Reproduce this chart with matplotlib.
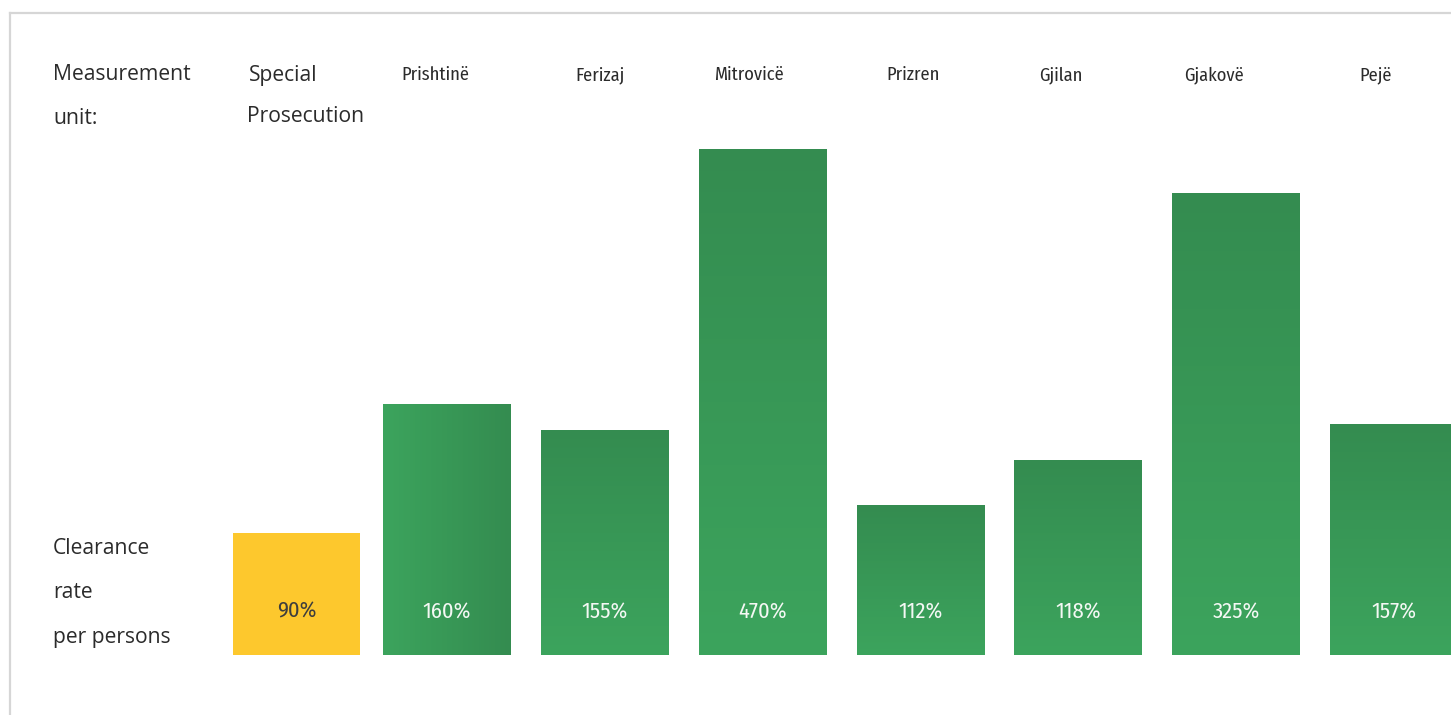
import numpy as np
import matplotlib
matplotlib.use("Agg")
import matplotlib.pyplot as plt
from matplotlib.colors import LinearSegmentedColormap
from matplotlib import font_manager
from matplotlib.lines import Line2D

# ---- data ----
categories = ["Special\nProsecution", "Prishtinë", "Ferizaj", "Mitrovicë",
              "Prizren", "Gjilan", "Gjakovë", "Pejë"]
rate_labels = ["90%", "160%", "155%", "470%", "112%", "118%", "325%", "157%"]
# visual bar heights (chart not drawn to scale)
bar_heights = [122, 251, 225, 506, 150, 195, 462, 231]
# x-positions (figure px) of the header labels of the municipalities
header_px = [None, 435, 600, 749, 913, 1061, 1214, 1376]

W, H = 1451, 715
fig = plt.figure(figsize=(W / 100, H / 100), dpi=100)
fig.patch.set_facecolor("white")

names = {f.name for f in font_manager.fontManager.ttflist}
def pick(cands):
    for c in cands:
        if c in names:
            return c
    return "DejaVu Sans"
cond = pick(["Fira Sans Condensed", "Roboto Condensed", "Open Sans Condensed",
             "PT Sans Narrow", "Archivo Narrow", "Encode Sans Condensed",
             "Liberation Sans Narrow"])
reg = pick(["Open Sans", "PT Sans"])

# axes spanning the full width, baseline at y=655 px
base_px = 655
ax = fig.add_axes([0, 1 - base_px / H, 1, base_px / H])
step = 157.8
c1 = 447.0          # centre of second bar in px
ax.set_xlim(1 - c1 / step, 1 + (W - c1) / step)
ax.set_ylim(0, base_px)
ax.axis("off")

x = np.arange(len(categories), dtype=float)
x[0] = 1 - 150.5 / step
width = 127.5 / step
colors = ["#fdc82d"] + ["#399b58"] * 7
bars = ax.bar(x, bar_heights, width=width, color=colors, linewidth=0, zorder=1)

dark = "#348c50"
light = "#3ca45d"
cmap_v = LinearSegmentedColormap.from_list("v", [light, dark])
for i, b in enumerate(bars):
    if i == 0:
        continue
    x0 = b.get_x()
    x1 = x0 + b.get_width()
    h = b.get_height()
    if i == 1:
        grad = np.linspace(0, 1, 256).reshape(1, -1)
    else:
        grad = np.linspace(0, 1, 256).reshape(-1, 1)
    im = ax.imshow(grad, extent=[x0, x1, 0, h], origin="lower", aspect="auto",
                   cmap=cmap_v, zorder=2, interpolation="bilinear")
    im.set_clip_path(b)

ax.set_xlim(1 - c1 / step, 1 + (W - c1) / step)
ax.set_ylim(0, base_px)

# value labels inside bars
for i, b in enumerate(bars):
    col = "#3d3d3d" if i == 0 else "#f4f8f4"
    ax.text(b.get_x() + b.get_width() / 2, base_px - 611, rate_labels[i],
            ha="center", va="center", fontsize=16.2, family=cond, color=col, zorder=3)

tc = "#2b2b2b"
def fx(px):
    return px / W
def fy(py):
    return 1 - py / H

fs = 15.2
# header row
fig.text(fx(53), fy(75), "Measurement", ha="left", va="center", fontsize=fs,
         family=reg, color=tc)
fig.text(fx(53), fy(118), "unit:", ha="left", va="center", fontsize=fs,
         family=reg, color=tc)
sp, pr = categories[0].split("\n")
fig.text(fx(249), fy(75), sp, ha="left", va="center", fontsize=fs, family=reg, color=tc)
fig.text(fx(247), fy(117), pr, ha="left", va="center", fontsize=fs, family=reg, color=tc)
for i in range(1, len(categories)):
    fig.text(fx(header_px[i]), fy(75), categories[i], ha="center", va="center",
             fontsize=13.3, family=cond, color=tc)

# left measure labels
for txt, py in [("Clearance", 548), ("rate", 592), ("per persons", 637)]:
    fig.text(fx(53), fy(py), txt, ha="left", va="center", fontsize=fs,
             family=reg, color=tc)

# frame lines (top and left)
fig.add_artist(Line2D([fx(10), 1.0], [fy(13), fy(13)], color="#d6d6d6", lw=1.6))
fig.add_artist(Line2D([fx(10), fx(10)], [fy(13), 0.0], color="#d6d6d6", lw=1.6))

fig.savefig("out.png", dpi=100, facecolor="white")
